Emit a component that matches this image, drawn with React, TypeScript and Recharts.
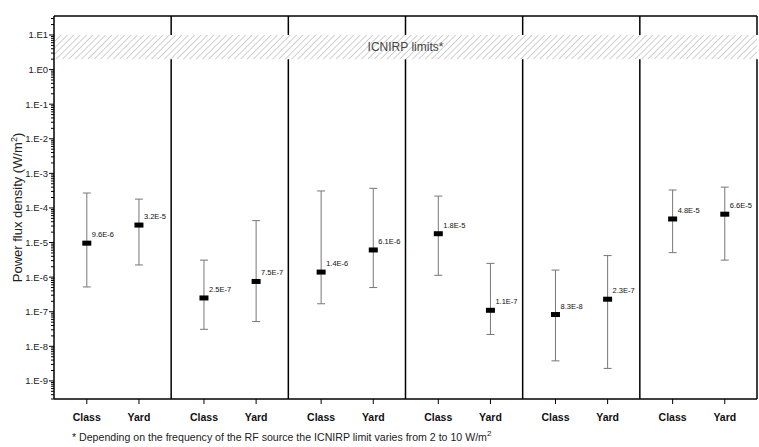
import React from 'react';
import {
  ScatterChart, Scatter, XAxis, YAxis, ErrorBar, ReferenceLine, ReferenceArea, Label,
} from 'recharts';

// ---- data ----
const sources = ['Radio', 'TV', 'Mobile', 'Wi-Fi', 'Other', 'Total'];
const groups = ['Class', 'Yard'];
const classMean = [9.6e-6, 2.5e-7, 1.4e-6, 1.8e-5, 8.3e-8, 4.8e-5];
const classLow = [5.2e-7, 3.1e-8, 1.7e-7, 1.13e-6, 3.8e-9, 5.1e-6];
const classHigh = [2.7e-4, 3.1e-6, 3.1e-4, 2.2e-4, 1.6e-6, 3.3e-4];
const yardMean = [3.2e-5, 7.5e-7, 6.1e-6, 1.1e-7, 2.3e-7, 6.6e-5];
const yardLow = [2.25e-6, 5.2e-8, 5.0e-7, 2.2e-8, 2.3e-9, 3.1e-6];
const yardHigh = [1.8e-4, 4.3e-5, 3.7e-4, 2.5e-6, 4.2e-6, 4.0e-4];
const icnirpLimits = [2, 10];
const majorTicks = [1e1, 1e0, 1e-1, 1e-2, 1e-3, 1e-4, 1e-5, 1e-6, 1e-7, 1e-8, 1e-9];

// ---- layout constants ----
const Y_MIN = 3.0e-10;
const Y_MAX = 35.4;
const GROUP_POS = [0.28, 0.725];

const fmt = (v: number) => v.toExponential(1).toUpperCase().replace('E+', 'E');
const tickFmt = (v: number) => {
  const e = Math.round(Math.log10(v));
  return `1.E${e}`;
};

const points = sources.flatMap((s, i) => [
  { x: i + GROUP_POS[0], y: classMean[i], err: [classMean[i] - classLow[i], classHigh[i] - classMean[i]] },
  { x: i + GROUP_POS[1], y: yardMean[i], err: [yardMean[i] - yardLow[i], yardHigh[i] - yardMean[i]] },
]);

const minorTicks: number[] = [];
for (let e = -10; e <= 1; e++) {
  for (let m = 2; m <= 9; m++) {
    const v = m * Math.pow(10, e);
    if (v >= Y_MIN && v <= Y_MAX) minorTicks.push(v);
  }
}
const allYTicks = [...majorTicks, ...minorTicks].sort((a, b) => a - b);
const isMajor = (v: number) => majorTicks.some((t) => Math.abs(t - v) / t < 1e-6);

const bottomTicks = sources.flatMap((s, i) => GROUP_POS.map((p) => i + p));
const topTicks = sources.map((s, i) => i + 0.5);

const YTick = (props: any) => {
  const { x, y, payload } = props;
  const major = isMajor(payload.value);
  return (
    <g>
      <line x1={x - (major ? 5 : 3)} x2={x} y1={y} y2={y} stroke="#000" strokeWidth={1} />
      {major && (
        <text x={x - 6} y={y} dy={3.5} textAnchor="end" fontSize={9.5} fill="#222">
          {tickFmt(payload.value)}
        </text>
      )}
    </g>
  );
};

const Marker = (props: any) => {
  const { cx, cy, payload } = props;
  if (cx == null || cy == null) return null;
  return (
    <g>
      <rect x={cx - 4.5} y={cy - 2.5} width={9} height={5} fill="#000" />
      <text x={cx + 5} y={cy - 6} fontSize={7.5} fill="#111">{fmt(payload.y)}</text>
    </g>
  );
};

const YLabel = (props: any) => {
  const vb = props.viewBox || { x: 0, y: 16, width: 54, height: 383 };
  const x = 22;
  const y = vb.y + vb.height / 2;
  return (
    <text x={x} y={y} transform={`rotate(-90, ${x}, ${y})`} textAnchor="middle" fontSize={13} fill="#222">
      Power flux density (W/m<tspan dy={-5} fontSize={9}>2</tspan><tspan dy={5}>)</tspan>
    </text>
  );
};

const Hatch = (props: any) => {
  const { x, y, width, height } = props;
  return (
    <g>
      <defs>
        <pattern id="hatch" patternUnits="userSpaceOnUse" width={4.5} height={4.5} patternTransform="rotate(45)">
          <line x1={0} y1={0} x2={0} y2={4.5} stroke="#c4c4c4" strokeWidth={1.6} />
        </pattern>
      </defs>
      <rect x={x} y={y} width={width} height={height} fill="#fff" />
      <rect x={x} y={y} width={width} height={height} fill="url(#hatch)" />
    </g>
  );
};

const dividerSegments = [1, 2, 3, 4, 5, 6].flatMap((d) => [
  [{ x: d, y: Y_MIN }, { x: d, y: icnirpLimits[0] }],
  [{ x: d, y: icnirpLimits[1] }, { x: d, y: Y_MAX }],
]);

export default function App() {
  return (
    <div style={{ position: 'absolute', left: 0, top: 0, width: 759, height: 447, background: '#fff', fontFamily: '"Liberation Sans", Arial, sans-serif' }}>
      <ScatterChart width={759} height={447} margin={{ top: 0, right: 2, bottom: 18, left: 0 }}>
        <XAxis
          xAxisId="bottom"
          type="number"
          dataKey="x"
          domain={[0, 6]}
          allowDataOverflow
          ticks={bottomTicks}
          interval={0}
          tickFormatter={(v: number) => (v - Math.floor(v) < 0.5 ? groups[0] : groups[1])}
          height={30}
          tickSize={5}
          tickMargin={10}
          stroke="#000"
          axisLine={{ stroke: '#000', strokeWidth: 1.5 }}
          tickLine={{ stroke: '#000' }}
          tick={{ fontSize: 10.5, fontWeight: 'bold', fill: '#111' }}
        />
        <XAxis
          xAxisId="top"
          orientation="top"
          type="number"
          domain={[0, 6]}
          allowDataOverflow
          ticks={topTicks}
          interval={0}
          tickFormatter={(v: number) => sources[Math.floor(v)]}
          height={16}
          tickSize={0}
          tickMargin={6}
          tickLine={false}
          axisLine={{ stroke: '#000', strokeWidth: 1.5 }}
          tick={{ fontSize: 11.5, fontWeight: 'bold', fill: '#111' }}
        />
        <YAxis
          type="number"
          dataKey="y"
          scale="log"
          domain={[Y_MIN, Y_MAX]}
          allowDataOverflow
          ticks={allYTicks}
          interval={0}
          width={54}
          tickSize={0}
          tickMargin={0}
          tickLine={false}
          axisLine={{ stroke: '#000', strokeWidth: 1.5 }}
          tick={<YTick />}
        >
          <Label content={<YLabel />} />
        </YAxis>
        <ReferenceArea
          xAxisId="bottom"
          x1={0}
          x2={6}
          y1={icnirpLimits[0]}
          y2={icnirpLimits[1]}
          shape={<Hatch />}
          label={{ value: 'ICNIRP limits*', position: 'center', fill: '#444', fontSize: 12 }}
        />
        {dividerSegments.map((seg, i) => (
          <ReferenceLine
            key={'d' + i}
            xAxisId="bottom"
            segment={seg}
            stroke="#000"
            strokeWidth={1.5}
          />
        ))}
        <Scatter xAxisId="bottom" data={points} shape={<Marker />} isAnimationActive={false}>
          <ErrorBar dataKey="err" direction="y" width={4} stroke="#777" strokeWidth={1} />
        </Scatter>
      </ScatterChart>
      <svg width={759} height={447} style={{ position: 'absolute', left: 0, top: 0, pointerEvents: 'none' }}>
        <text x={72} y={441} fontSize={10.6} fill="#222">
          * Depending on the frequency of the RF source the ICNIRP limit varies from 2 to 10 W/m
          <tspan dy={-5} fontSize={8}>2</tspan>
        </text>
      </svg>
    </div>
  );
}
